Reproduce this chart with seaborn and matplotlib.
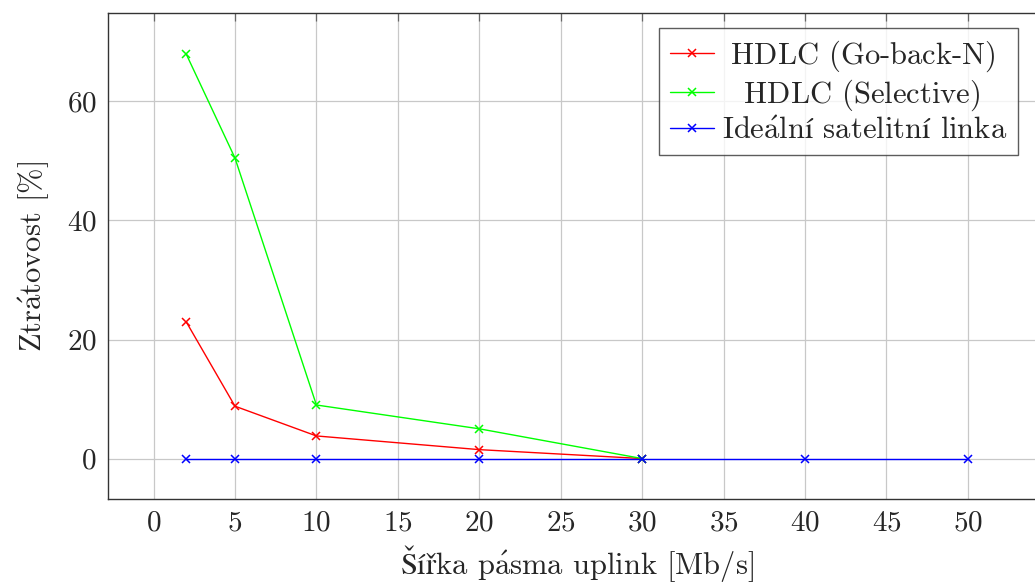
import numpy as np
import pandas as pd
import matplotlib
matplotlib.use("Agg")
import matplotlib.pyplot as plt
import seaborn as sns

# data
bw_gbn = [2, 5, 10, 20, 30]
loss_gbn = [23.0, 8.8, 3.8, 1.5, 0.0]
bw_sel = [2, 5, 10, 20, 30]
loss_sel = [68.0, 50.5, 9.0, 5.0, 0.0]
bw_ideal = [2, 5, 10, 20, 30, 40, 50]
loss_ideal = [0, 0, 0, 0, 0, 0, 0]

# accented letters go through mathtext (cm + stix fallback) to keep a TeX look
a_ = r"$\mathrm{\acute{a}}$"
i_ = r"$\mathrm{í}$"
labels = [r"$\hspace{0.33}$HDLC (Go-back-N)",
          r"$\hspace{0.82}$HDLC (Selective)",
          "Ide" + a_ + "ln" + i_ + " satelitn" + i_ + " linka"]
keys = ["gbn", "sel", "ideal"]
colors = ["#ff0000", "#00ff00", "#0000ff"]
xlabel = r"$\mathrm{Šíř}$ka p" + a_ + "sma uplink [Mb/s]"
ylabel = "Ztr" + a_ + "tovost [%]"

df = pd.concat([
    pd.DataFrame({"bw": bw_gbn, "loss": loss_gbn, "series": keys[0]}),
    pd.DataFrame({"bw": bw_sel, "loss": loss_sel, "series": keys[1]}),
    pd.DataFrame({"bw": bw_ideal, "loss": loss_ideal, "series": keys[2]}),
])

sns.set_style("white")
plt.rcParams["font.family"] = ["cmr10", "DejaVu Serif"]
plt.rcParams["mathtext.fontset"] = "cm"
plt.rcParams["axes.formatter.use_mathtext"] = True
plt.rcParams["axes.unicode_minus"] = False

fig = plt.figure(figsize=(10.35, 5.84), dpi=100)
ax = fig.add_axes([0.1043, 0.1455, 0.9063, 0.8316])

sns.lineplot(data=df, x="bw", y="loss", hue="series", palette=colors,
             marker="x", markersize=6, markeredgewidth=1.1, linewidth=1.0,
             ax=ax, sort=False, estimator=None, legend=False)
lines = ax.get_lines()
for ln in lines:
    ln.set_markeredgecolor(ln.get_color())

ax.set_xlim(-2.8, 54.8)
ax.set_ylim(-6.8, 74.8)
ax.set_xticks(np.arange(0, 55, 5))
ax.set_yticks([0, 20, 40, 60])
ax.grid(True, color="#c8c8c8", linewidth=0.9)
ax.set_axisbelow(True)
ax.tick_params(direction="in", length=6, width=0.9, color="#666666",
               top=True, right=True, labelsize=21)
ax.tick_params(axis="x", pad=8)
ax.tick_params(axis="y", pad=8)
for s in ax.spines.values():
    s.set_color("#333333")
    s.set_linewidth(1.0)

ax.set_xlabel(xlabel, fontsize=22, labelpad=5)
ax.set_ylabel(ylabel, fontsize=22, labelpad=11)

leg = ax.legend(lines, labels, loc="upper right", bbox_to_anchor=(0.970, 0.97),
                fontsize=22, frameon=True, fancybox=False, edgecolor="#333333",
                handlelength=1.45, handletextpad=0.25, labelspacing=0.12,
                borderpad=0.35, borderaxespad=0)
leg.get_frame().set_linewidth(1.0)

fig.savefig("out.png", dpi=100)
